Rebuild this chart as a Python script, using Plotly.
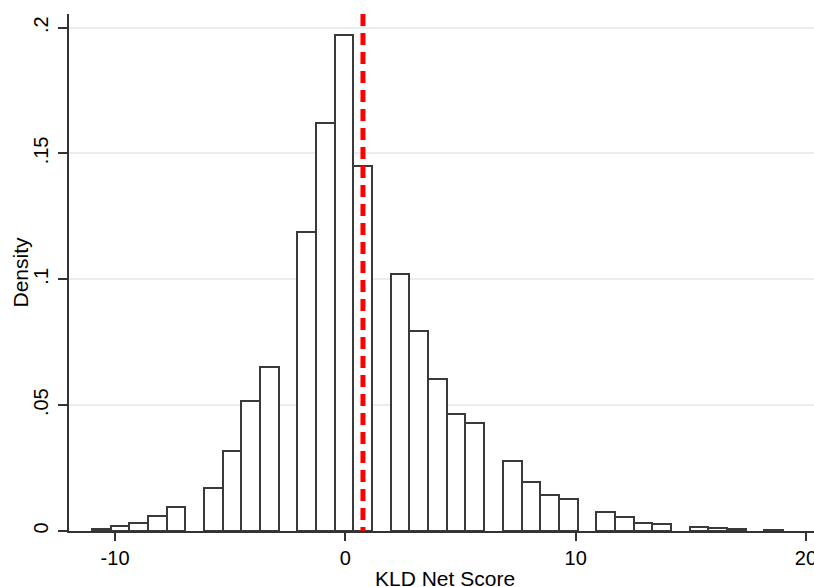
import math
import plotly.graph_objects as go

# KLD net score values (integers) and histogram density for each
scores = [-11, -10, -9, -8, -7, -6, -5, -4, -3, -2, -1, 0, 1, 2, 3, 4, 5, 6, 7, 8,
          9, 10, 11, 12, 13, 14, 15, 16, 17, 18, 19]
density = [0.0006, 0.0019, 0.0033, 0.0059, 0.0094, 0.0170, 0.0317, 0.0517, 0.0651,
           0.1188, 0.1622, 0.1971, 0.1452, 0.1023, 0.0796, 0.0602, 0.0463, 0.0429,
           0.0279, 0.0196, 0.0144, 0.0126, 0.0074, 0.0057, 0.0030, 0.0026, 0.0017,
           0.0013, 0.0009, 0.0, 0.0004]
mean_score = 0.765

bin_start = -11
bin_end = 19
n_bins = 37
bin_w = (bin_end - bin_start) / n_bins

xtick_vals = [-10, 0, 10, 20]
xtick_text = ["-10", "0", "10", "20"]
ytick_vals = [0, 0.05, 0.1, 0.15, 0.2]
ytick_text = ["0", ".05", ".1", ".15", ".2"]

centers, heights = [], []
for s, d in zip(scores, density):
    if d <= 0:
        continue
    idx = min(int(math.floor((s - bin_start) / bin_w + 1e-9)), n_bins - 1)
    centers.append(bin_start + (idx + 0.5) * bin_w)
    heights.append(d)

W, H = 814, 587
ML, MR, MT, MB = 69, 0, 14, 56
PW, PH = W - ML - MR, H - MT - MB

FONT = "Liberation Sans, Arial, Helvetica, sans-serif"
fig = go.Figure()
fig.add_trace(go.Bar(
    x=centers, y=heights, width=bin_w,
    marker=dict(color="white", line=dict(color="#3a3a3a", width=2)),
    showlegend=False, hoverinfo="x+y",
))

fig.add_shape(type="line", xref="x", yref="y", x0=mean_score, x1=mean_score,
              y0=0.2054, y1=0, line=dict(color="#ff0000", width=5, dash="12px,7px"),
              layer="above")

fig.add_annotation(text="Density", textangle=-90, xref="paper", yref="paper",
                   x=-(ML - 20) / PW, y=0.5, xanchor="center", yanchor="middle",
                   showarrow=False, font=dict(size=21, family=FONT, color="black"))
fig.add_annotation(text="KLD Net Score", xref="paper", yref="paper",
                   x=(445 - ML) / PW, y=-(578 - (H - MB)) / PH,
                   xanchor="center", yanchor="middle",
                   showarrow=False, font=dict(size=21, family=FONT, color="black"))

fig.update_layout(
    width=W, height=H,
    margin=dict(l=ML, r=MR, t=MT, b=MB, autoexpand=False),
    paper_bgcolor="white", plot_bgcolor="white",
    font=dict(family=FONT, color="black", size=20),
    bargap=0,
)
fig.update_xaxes(
    range=[-12.0, 20.35], tickvals=xtick_vals, ticktext=xtick_text,
    ticks="outside", ticklen=8, automargin=False, ticklabeloverflow="allow",
    tickwidth=1.5, tickcolor="#333333", showline=True, linecolor="#333333",
    linewidth=1.5, showgrid=False, zeroline=False,
    tickfont=dict(size=20),
)
fig.update_yaxes(
    range=[0, 0.2054], tickvals=ytick_vals, ticktext=ytick_text, tickangle=-90,
    ticks="outside", ticklen=9, tickwidth=1.5, tickcolor="#333333",
    automargin=False, ticklabelstandoff=2,
    showline=True, linecolor="#333333", linewidth=1.5,
    showgrid=True, gridcolor="#e8eef0", gridwidth=1.5, zeroline=False,
    tickfont=dict(size=20),
)

fig.write_html("out.html", config={"displayModeBar": False},
               post_script="document.body.style.margin='0';document.body.style.overflow='hidden';")
